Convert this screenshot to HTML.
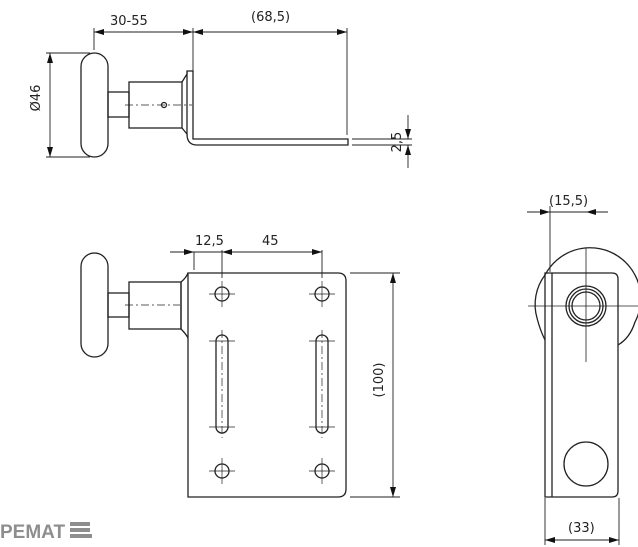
<!DOCTYPE html>
<html><head><style>body{margin:0;background:#fff}svg{display:block}text{font-family:"DejaVu Sans","Liberation Sans",sans-serif;fill:#222}</style></head><body>
<svg width="638" height="547" viewBox="0 0 638 547" xmlns="http://www.w3.org/2000/svg">
<defs><marker id="a" viewBox="0 0 10 6" refX="10" refY="3" markerWidth="10" markerHeight="6" orient="auto-start-reverse" markerUnits="userSpaceOnUse"><path d="M0,0L10,3L0,6z" fill="#111"/></marker></defs>
<g fill="none" stroke="#222" stroke-width="1.3">
<rect x="81" y="53" width="27" height="104" rx="13.5"/>
<rect x="108" y="92" width="21" height="25"/>
<rect x="129" y="82" width="53" height="46"/>
<path d="M182,82 L187,74 L187,134 L182,128"/>
<path d="M187,74 L187,71 L193,71 L193,139 L348,139 L348,145 L197,145 Q187,145 187,134"/>
<circle cx="164" cy="105" r="2.5"/>
<path d="M125,105 H192" stroke-dasharray="8,3,2,3" stroke-width="0.8"/>
<g stroke-width="0.9">
<path d="M94,32 H193" marker-start="url(#a)" marker-end="url(#a)"/>
<path d="M193,32 H347" marker-start="url(#a)" marker-end="url(#a)"/>
<path d="M94,28 V50 M193,28 V72 M347,28 V135"/>
<path d="M50,53 V157" marker-start="url(#a)" marker-end="url(#a)"/>
<path d="M46,53 H90 M46,157 H90"/>
<path d="M352,139 H412 M352,145 H412"/>
<path d="M408,115 V139" marker-end="url(#a)"/><path d="M408,168 V145" marker-end="url(#a)"/>
</g>
<rect x="81" y="253" width="27" height="104" rx="13.5"/>
<rect x="108" y="293" width="21" height="24"/>
<rect x="129" y="282" width="52" height="47"/>
<path d="M181,282 Q186,278 188,273 M181,329 Q186,334 188,338 M181,282 V329"/>
<path d="M188,273 H338 Q346,273 346,281 V489 Q346,497 338,497 H188 Z"/>
<path d="M125,305 H180" stroke-dasharray="8,3,2,3" stroke-width="0.8"/>
<circle cx="222" cy="294" r="7"/><circle cx="322" cy="294" r="7"/>
<circle cx="222" cy="471" r="7"/><circle cx="322" cy="471" r="7"/>
<rect x="216" y="335" width="12" height="98" rx="6"/><rect x="316" y="335" width="12" height="98" rx="6"/>
<g stroke-width="0.7">
<path d="M209,294H235M222,281V307M309,294H335M322,281V307M209,471H235M222,458V484M309,471H335M322,458V484"/>
<path d="M209,341H235M209,427H235M309,341H335M309,427H335"/>
<path d="M222,330V438M322,330V438" stroke-dasharray="8,3,2,3"/>
</g>
<g stroke-width="0.9">
<path d="M170,252 H194" marker-end="url(#a)"/>
<path d="M194,252 H222" /><path d="M222,252 H322" marker-start="url(#a)" marker-end="url(#a)"/>
<path d="M194,252 V270 M222,250 V278 M322,250 V278"/>
<path d="M393,273 V497" marker-start="url(#a)" marker-end="url(#a)"/>
<path d="M350,273 H400 M350,497 H400"/>
</g>
<path d="M545,275 A49,49 0 0 1 635,322 Q630,338 618,345"/>
<path d="M545,340 Q540,330 537,318 A49,49 0 0 1 545,275"/>
<path d="M545,273 H612 Q618,273 618,279 V491 Q618,497 612,497 H545 Z"/>
<path d="M552,273 V497"/>
<circle cx="586" cy="306" r="20"/><circle cx="586" cy="306" r="17"/><circle cx="586" cy="306" r="14"/>
<circle cx="586" cy="464" r="22"/>
<g stroke-width="0.8"><path d="M528,306 H638 M586,248 V362"/></g>
<g stroke-width="0.9">
<path d="M527,212 H550" marker-end="url(#a)"/><path d="M608,212 H586" marker-end="url(#a)"/>
<path d="M550,212 H586"/>
<path d="M550,206 V272"/>
<path d="M545,498 V545 M619,498 V545"/>
<path d="M545,540 H619" marker-start="url(#a)" marker-end="url(#a)"/>
</g>
</g>
<g font-size="13">
<text x="110" y="25">30-55</text>
<text x="251" y="21">(68,5)</text>
<text x="47" y="105" transform="rotate(-90 40 105)" text-anchor="middle">Ø46</text>
<text x="401" y="142" transform="rotate(-90 401 142)" text-anchor="middle">2,5</text>
<text x="195" y="245">12,5</text>
<text x="262" y="245">45</text>
<text x="388" y="385" transform="rotate(-90 383 385)" text-anchor="middle">(100)</text>
<text x="549" y="205">(15,5)</text>
<text x="568" y="532">(33)</text>
</g>
<text x="0" y="538" font-size="19" font-weight="bold" style="fill:#8e8e8e;font-family:'Liberation Sans',sans-serif">PEMAT</text>
<g fill="#8e8e8e"><rect x="70" y="522" width="20" height="4"/><rect x="70" y="528" width="20" height="4"/><rect x="70" y="534" width="22" height="4"/></g>
</svg>
</body></html>
